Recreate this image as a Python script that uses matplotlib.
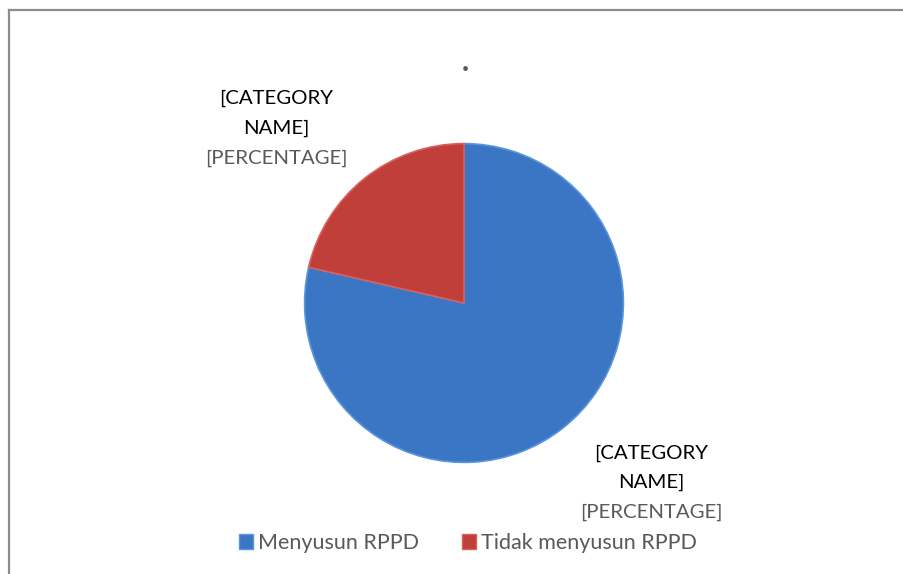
import matplotlib
matplotlib.use("Agg")
import matplotlib.pyplot as plt
from matplotlib.lines import Line2D
from matplotlib.patches import Patch

# data
categories = ['Menyusun RPPD', 'Tidak menyusun RPPD']
shares = [78.6, 21.4]
colors = ['#3b76c4', '#c03f3b']
edge_colors = ['#5b95dc', '#d9605b']

W, H = 904, 574
plt.rcParams['font.family'] = ['Lato', 'DejaVu Sans']

fig = plt.figure(figsize=(W / 100, H / 100), dpi=100)

# outer frame (only top and left visible)
fig.add_artist(Line2D([9 / W, 1], [1 - 10 / H, 1 - 10 / H], color='#8c8c8c', lw=1.6))
fig.add_artist(Line2D([9 / W, 9 / W], [0, 1 - 10 / H], color='#8c8c8c', lw=1.6))

# pie area: centre (464, 303), radius ~161 px
cx, cy, r = 464, 303, 161
ax = fig.add_axes([(cx - r) / W, (H - cy - r) / H, 2 * r / W, 2 * r / H])
wedges, _ = ax.pie(shares, colors=colors, startangle=90, counterclock=False,
                   radius=1.0, wedgeprops=dict(linewidth=1.2))
for w, ec in zip(wedges, edge_colors):
    w.set_edgecolor(ec)
ax.set_xlim(-1.01, 1.01)
ax.set_ylim(-1.01, 1.01)
ax.set_aspect('equal')
ax.axis('off')

# title placeholder
fig.text(465 / W, 1 - 62 / H, '.', ha='center', va='center', fontsize=22,
         color='#595959', fontweight='bold')

# data labels, one text per line
fs = 14.7
def data_label(x, ys):
    fig.text(x / W, 1 - ys[0] / H, '[CATEGORY', ha='center', va='center',
             fontsize=fs, color='black')
    fig.text(x / W, 1 - ys[1] / H, 'NAME]', ha='center', va='center',
             fontsize=fs, color='black')
    fig.text(x / W, 1 - ys[2] / H, '[PERCENTAGE]', ha='center', va='center',
             fontsize=fs, color='#595959')

data_label(276, [98, 128, 158])
data_label(651, [453, 482, 512])

# legend
handles = [Patch(facecolor=c, edgecolor=ec, label=lab)
           for c, ec, lab in zip(colors, edge_colors, categories)]
fig.legend(handles=handles, loc='center', bbox_to_anchor=(468 / W, 1 - 543 / H),
           ncol=2, frameon=False, fontsize=15.5, labelcolor='#595959',
           handlelength=0.65, handleheight=0.65, handletextpad=0.25,
           columnspacing=2.0)

fig.savefig('out.png', dpi=100)
